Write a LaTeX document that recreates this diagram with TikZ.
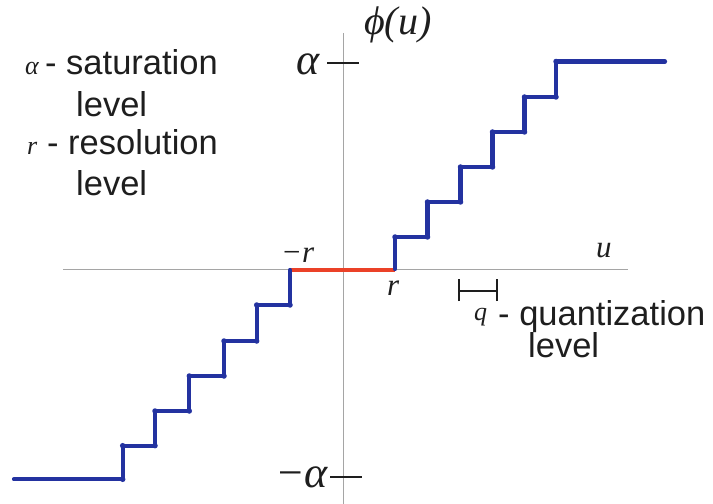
\documentclass[tikz,border=0pt]{standalone}
\usepackage{fontspec}
\setmainfont{Liberation Sans}
\newfontfamily\tms{Liberation Serif}
\definecolor{stairblue}{RGB}{35,50,160}
\definecolor{deadred}{RGB}{235,65,40}
\definecolor{axisgray}{RGB}{165,165,165}
\definecolor{inkgray}{RGB}{30,30,30}
\begin{document}
\begin{tikzpicture}[x=1bp,y=-1bp,
  axisline/.style={draw=axisgray,line width=1bp},
  stair/.style={draw=stairblue,line width=4.2bp,line cap=round,line join=round},
  deadzone/.style={draw=deadred,line width=4.2bp},
  tickline/.style={draw=inkgray,line width=1.2bp},
  corner/.style={fill=stairblue,circle,inner sep=0pt,minimum size=5.5bp},
  txt/.style={inner sep=0pt,anchor=base west,text=inkgray,font=\fontsize{34.5bp}{40bp}\selectfont},
  smallmath/.style={inner sep=0pt,anchor=base west,text=inkgray,font=\tms\itshape\fontsize{26bp}{26bp}\selectfont},
  bigmath/.style={inner sep=0pt,text=inkgray,font=\tms\itshape\fontsize{44bp}{44bp}\selectfont},
  axmath/.style={inner sep=0pt,anchor=base west,text=inkgray,font=\tms\itshape\fontsize{31bp}{31bp}\selectfont}]
\useasboundingbox (0,0) rectangle (713,504);
% axes
\coordinate (xl) at (63,269);
\coordinate (xr) at (628,269);
\coordinate (yt) at (343,33);
\coordinate (yb) at (343,504);
\draw[axisline] (xl) -- (xr);
\draw[axisline] (yt) -- (yb);
% ticks
\coordinate (at1) at (327,63);
\coordinate (at2) at (359,63);
\coordinate (bt1) at (330,477);
\coordinate (bt2) at (362,477);
\draw[tickline] (at1) -- (at2);
\draw[tickline] (bt1) -- (bt2);
% dead zone
\coordinate (mr) at (290,270);
\coordinate (pr) at (395,270);
\draw[deadzone] (mr) -- (pr);
% positive staircase
\draw[stair] (395,269) -- (395,237) -- (427.5,237) -- (427.5,202) -- (460.5,202) -- (460.5,167)
  -- (492.5,167) -- (492.5,132) -- (524.5,132) -- (524.5,97) -- (556,97) -- (556,61.5) -- (665,61.5);
\foreach \p in {(395,237),(427.5,237),(427.5,202),(460.5,202),(460.5,167),(492.5,167),(492.5,132),(524.5,132),(524.5,97),(556,97),(556,61.5)}
  \node[corner] at \p {};
% negative staircase
\draw[stair] (290,270) -- (290,305) -- (256.7,305) -- (256.7,341) -- (224,341) -- (224,376)
  -- (189.3,376) -- (189.3,411) -- (155,411) -- (155,445.7) -- (122.7,445.7) -- (122.7,479.3) -- (14,479.3);
\foreach \p in {(290,305),(256.7,305),(256.7,341),(224,341),(224,376),(189.3,376),(189.3,411),(155,411),(155,445.7),(122.7,445.7),(122.7,479.3)}
  \node[corner] at \p {};
% q bracket
\coordinate (q1) at (459,291);
\coordinate (q2) at (497,291);
\draw[tickline] (q1) -- (q2);
\draw[tickline] ([yshift=-10bp]q1) -- ([yshift=12bp]q1);
\draw[tickline] ([yshift=-10bp]q2) -- ([yshift=12bp]q2);
% axis labels
\node[bigmath,anchor=base west] (phi) at (364,35) {\fontsize{40bp}{40bp}\selectfont ϕ(u)};
\node[bigmath,anchor=base west] (alab) at (296,75) {α};
\node[bigmath,anchor=base east] (malab) at (328,487) {−α};
\node[axmath] (ulab) at (596,258) {u};
\node[axmath] (mrlab) at (281,263) {−r};
\node[axmath] (rlab) at (387,295) {r};
% legend left
\node[smallmath] (l1a) at (25,75) {α};
\node[txt] (l1b) at (45,75) {- saturation};
\node[txt] (l2) at (76,117) {level};
\node[smallmath] (l3a) at (27,155) {r};
\node[txt] (l3b) at (47,155) {- resolution};
\node[txt] (l4) at (76,196) {level};
% legend right
\node[smallmath] (l5a) at (474,320) {q};
\node[txt] (l5b) at (498,325) {- quantization};
\node[txt] (l6) at (528,357) {level};
\end{tikzpicture}
\end{document}
